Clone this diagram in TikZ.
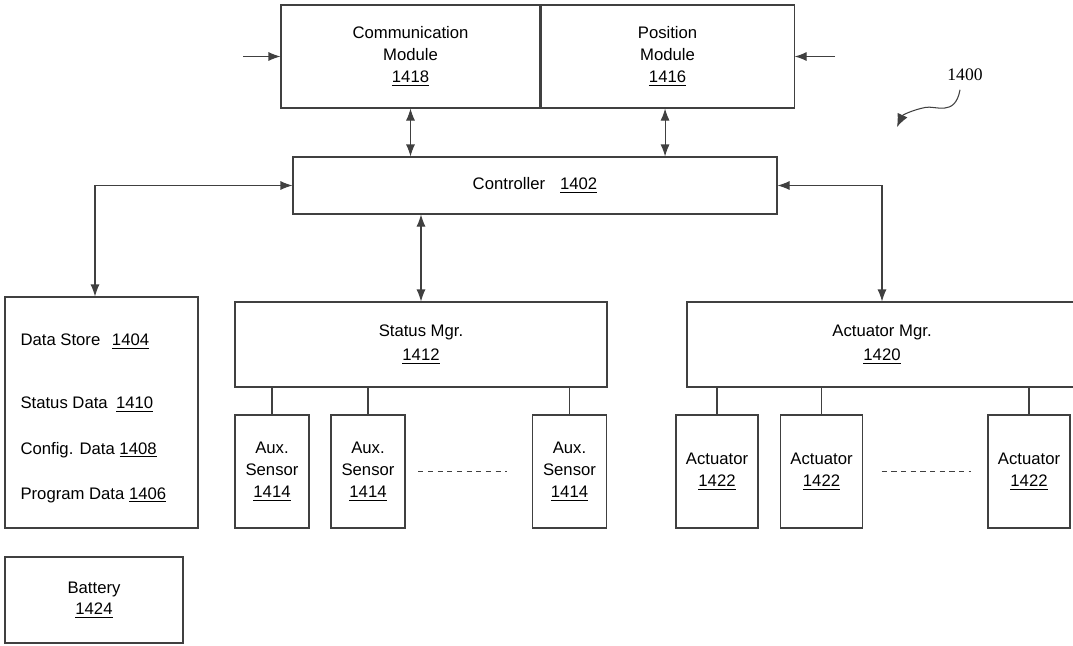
\documentclass[tikz,border=0pt]{standalone}
\usepackage{fontspec}
\setmainfont{Liberation Sans}
\newfontfamily\figfont{Liberation Serif}
\usetikzlibrary{arrows.meta,positioning,calc}

\begin{document}
\begin{tikzpicture}[
font=\fontsize{9.5}{12.5}\selectfont,
line width=0.6pt,
box/.style={rectangle,draw=black!75,align=center,inner sep=0pt},
wide/.style={box,minimum width=5.18cm,minimum height=2.06cm},
sensorbox/.style={box,minimum width=1.48cm,minimum height=2.26cm},
actbox/.style={box,minimum width=1.64cm,minimum height=2.26cm},
mgr/.style={box,minimum height=1.70cm},
datatext/.style={anchor=west,inner sep=0pt},
arr/.style={draw=black!75,{Latex[length=2.4mm,width=1.8mm]}-{Latex[length=2.4mm,width=1.8mm]}},
inarr/.style={draw=black!75,-{Latex[length=2.4mm,width=1.8mm]}},
stub/.style={draw=black!75},
more/.style={draw=black!75,dash pattern=on 3pt off 2.5pt},
]
\useasboundingbox (0,0) rectangle (21.46,-12.9);

% Module
\node[wide] (comm) at (8.21,-1.13) {Communication\\Module\\\underline{1418}};
\node[wide,minimum width=5.06cm,right=0pt of comm] (pos) {Position\\Module\\\underline{1416}};
\coordinate (commin) at (4.86,-1.13);
\coordinate (posin) at (16.70,-1.13);

\node[box,minimum width=9.68cm,minimum height=1.14cm] (ctrl) at (10.70,-3.71) {Controller\hspace{0.9em}\underline{1402}};

% Speicher
\node[box,minimum width=3.86cm,minimum height=4.62cm] (store) at (2.03,-8.25) {};
\node[datatext] (storetitle) at (0.40,-6.84) {Data Store\hspace{0.7em}\underline{1404}};
\node[datatext] (status) at (0.40,-8.10) {Status Data\hspace{0.5em}\underline{1410}};
\node[datatext] (config) at (0.40,-9.00) {Config. Data \underline{1408}};
\node[datatext] (program) at (0.40,-9.90) {Program Data \underline{1406}};

\node[box,minimum width=3.56cm,minimum height=1.72cm] (battery) at (1.88,-12.00) {Battery\\\underline{1424}};

% Manager
\node[mgr,minimum width=7.44cm] (statmgr) at (8.42,-6.89) {Status Mgr.\\[1pt]\underline{1412}};
\node[mgr,minimum width=7.80cm] (actmgr) at (17.64,-6.89) {Actuator Mgr.\\[1pt]\underline{1420}};

\node[sensorbox] (aux1) at (5.44,-9.43) {Aux.\\Sensor\\\underline{1414}};
\node[sensorbox] (aux2) at (7.36,-9.43) {Aux.\\Sensor\\\underline{1414}};
\node[sensorbox] (aux3) at (11.39,-9.43) {Aux.\\Sensor\\\underline{1414}};

\node[actbox] (act1) at (14.34,-9.43) {Actuator\\\underline{1422}};
\node[actbox] (act2) at (16.43,-9.43) {Actuator\\\underline{1422}};
\node[actbox] (act3) at (20.58,-9.43) {Actuator\\\underline{1422}};

\node[font=\figfont\fontsize{10}{12}\selectfont] (ref) at (19.30,-1.50) {1400};

\draw[inarr] (commin) -- (comm.west);
\draw[inarr] (posin) -- (pos.east);
\draw[arr] (comm.south) -- (comm.south |- ctrl.north);
\draw[arr] ([xshift=-0.05cm]pos.south) -- ([xshift=-0.05cm]pos.south |- ctrl.north);
\draw[arr] (statmgr.north |- ctrl.south) -- (statmgr.north);
\draw[arr] (ctrl.west) -| ([xshift=-0.13cm]store.north);
\draw[arr] (ctrl.east) -| (actmgr.north);

\foreach \n in {aux1,aux2,aux3}
  \draw[stub] (\n.north) -- (\n.north |- statmgr.south);
\foreach \n in {act1,act2,act3}
  \draw[stub] (\n.north) -- (\n.north |- actmgr.south);

\draw[more] ($(aux2.east)!0.1!(aux3.west)$) -- ($(aux2.east)!0.8!(aux3.west)$);
\draw[more] ($(act2.east)!0.15!(act3.west)$) -- ($(act2.east)!0.87!(act3.west)$);

\draw[draw=black!75,-{Latex[length=2.6mm,width=2.2mm]}] ([xshift=-0.1cm,yshift=-0.05cm]ref.south) .. controls (19.10,-2.35) and (18.70,-2.10) .. (18.50,-2.15) .. controls (18.25,-2.20) and (18.05,-2.30) .. (17.94,-2.54);
\end{tikzpicture}
\end{document}
